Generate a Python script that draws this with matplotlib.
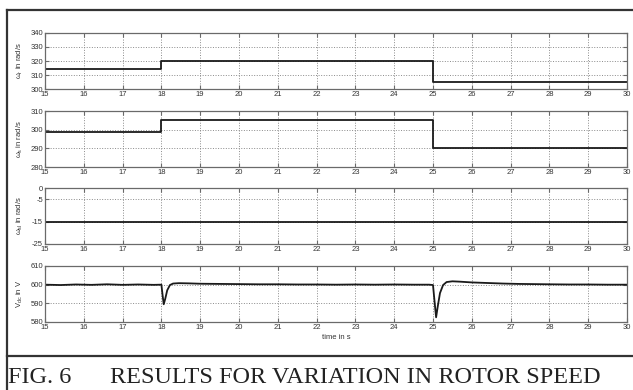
import numpy as np
import matplotlib
matplotlib.use("Agg")
from matplotlib import pyplot as plt
from matplotlib.lines import Line2D

# step data (time in s)
wr_t = [15, 18, 18, 25, 25, 30]
wr_v = [314, 314, 320, 320, 305, 305]
ws_t = [15, 18, 18, 25, 25, 30]
ws_v = [299, 299, 305, 305, 290, 290]
wsl_t = [15, 30]
wsl_v = [-15, -15]
vdc_t = [15.0, 15.4, 15.8, 16.2, 16.6, 17.0, 17.4, 17.8, 18.0, 18.03, 18.06,
         18.1, 18.15, 18.22, 18.3, 18.45, 18.7, 19.0, 19.5, 20.0, 20.5, 21.0,
         21.5, 22.0, 22.5, 23.0, 23.5, 24.0, 24.5, 24.9, 25.0, 25.04, 25.08,
         25.12, 25.18, 25.26, 25.35, 25.5, 25.7, 26.0, 26.4, 26.8, 27.2, 27.6,
         28.0, 28.5, 29.0, 29.5, 30.0]
vdc_v = [600.0, 599.8, 600.1, 599.9, 600.2, 599.9, 600.1, 599.9, 600.0, 594.5, 589.5,
         592.5, 597.0, 599.8, 600.6, 600.8, 600.7, 600.5, 600.4, 600.3, 600.2, 600.2,
         600.1, 600.1, 600.0, 600.1, 600.0, 600.1, 600.0, 600.0, 599.8, 591.0, 582.5,
         588.0, 595.5, 599.8, 601.4, 601.8, 601.6, 601.2, 600.9, 600.6, 600.4, 600.3,
         600.2, 600.1, 600.1, 600.0, 600.0]

xticks = list(range(15, 31))
panels = [
    (wr_t, wr_v, (300, 340), [300, 310, 320, 330, 340], r'$\omega_r$ in rad/s'),
    (ws_t, ws_v, (280, 310), [280, 290, 300, 310], r'$\omega_s$ in rad/s'),
    (wsl_t, wsl_v, (-25, 0), [-25, -15, -5, 0], r'$\omega_{sl}$ in rad/s'),
    (vdc_t, vdc_v, (580, 610), [580, 590, 600, 610], r'$V_{dc}$ in V'),
]

plt.rcParams['font.family'] = ['Liberation Sans', 'DejaVu Sans']
plt.rcParams['mathtext.fontset'] = 'custom'
plt.rcParams['mathtext.rm'] = 'Liberation Sans'
plt.rcParams['mathtext.it'] = 'Liberation Sans'
plt.rcParams['axes.unicode_minus'] = False

W, H = 633, 390
fig = plt.figure(figsize=(W / 100, H / 100), dpi=100)

tops = [33, 111, 188, 266]
ax_h = 56
left, right = 45, 627
axcol = '#6a6a6a'

for (t, v, ylim, yt, lab), top in zip(panels, tops):
    ax = fig.add_axes([left / W, 1 - (top + ax_h) / H, (right - left) / W, ax_h / H])
    ax.plot(t, v, color='#1a1a1a', lw=1.3)
    ax.set_xlim(15, 30)
    ax.set_ylim(*ylim)
    ax.set_xticks(xticks)
    ax.set_yticks(yt)
    ax.grid(True, ls=':', color='#8a8a8a', lw=0.7)
    ax.tick_params(direction='in', length=3, width=0.8, color=axcol,
                   labelsize=5.5, labelcolor='#333333', top=True, right=True, pad=1.5)
    for s in ax.spines.values():
        s.set_color(axcol)
        s.set_linewidth(0.9)
    ax.set_ylabel(lab, fontsize=5.5, color='#333333')
    ax.yaxis.set_label_coords(-0.035, 0.5)
    if top == tops[-1]:
        ax.set_xlabel('time in s', fontsize=5.5, color='#333333', labelpad=2)

# frame and caption
fig.add_artist(Line2D([7 / W, 7 / W], [0, 1 - 10 / H], color='#333333', lw=1.6))
fig.add_artist(Line2D([7 / W, 1], [1 - 10 / H, 1 - 10 / H], color='#333333', lw=1.6))
fig.add_artist(Line2D([7 / W, 1], [1 - 356 / H, 1 - 356 / H], color='#333333', lw=1.6))
fig.text(8 / W, 1 - 383 / H, 'FIG. 6', family='Liberation Serif', fontsize=17.5,
         color='#222222', va='baseline')
fig.text(110 / W, 1 - 383 / H, 'RESULTS FOR VARIATION IN ROTOR SPEED',
         family='Liberation Serif', fontsize=17.5, color='#222222', va='baseline')

fig.savefig('out.png', dpi=100)
